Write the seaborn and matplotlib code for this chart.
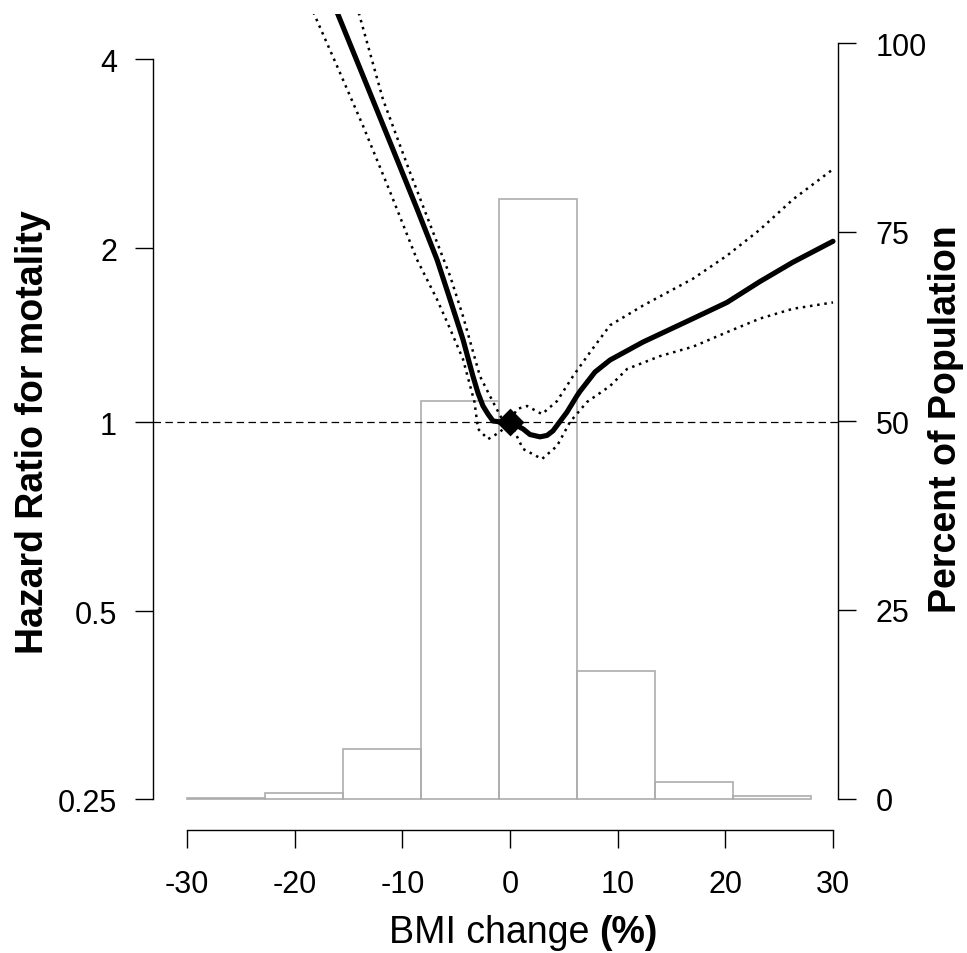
import numpy as np
import matplotlib
matplotlib.use("Agg")
import matplotlib.pyplot as plt
from matplotlib.ticker import FixedLocator, FixedFormatter, NullLocator
import seaborn as sns

# ---------------- data ----------------
# histogram of BMI change (percent of population per bin)
bin_edges = [-30.0, -22.75, -15.5, -8.25, -1.0, 6.25, 13.5, 20.75, 28.0]
pct_population = [0.15, 0.75, 6.6, 52.6, 79.4, 16.9, 2.2, 0.4]

# hazard ratio curve (solid)
hr_x = [-17.1, -16.0, -13.65, -11.15, -8.64, -6.78, -5.57, -4.37, -3.44, -2.97,
        -2.51, -2.04, -1.58, -1.21, -0.93, 0.0, 1.21, 1.86, 2.79, 3.44,
        3.99, 5.29, 6.22, 6.50, 7.89, 9.29, 12.35, 17.0, 20.15, 23.22,
        26.28, 30.0]
hr_y = [5.27, 4.72, 3.76, 2.95, 2.31, 1.91, 1.63, 1.39, 1.20, 1.122,
        1.066, 1.032, 1.004, 1.002, 1.0, 1.0, 0.975, 0.955, 0.947, 0.952,
        0.968, 1.04, 1.11, 1.13, 1.22, 1.28, 1.375, 1.51, 1.61, 1.75,
        1.89, 2.05]

# upper confidence limit (dotted)
upper_x = [-14.81, -14.02, -11.80, -9.29, -7.15, -5.57, -4.37, -2.79, -1.58, -0.74,
           0.0, 0.65, 1.58, 2.97, 4.37, 5.85, 7.43, 9.29, 12.35, 17.0,
           20.15, 23.22, 26.28, 30.0]
upper_y = [5.27, 4.72, 3.45, 2.64, 2.12, 1.79, 1.525, 1.20, 1.083, 1.012,
           1.0, 1.053, 1.066, 1.032, 1.087, 1.20, 1.32, 1.47, 1.59, 1.77,
           1.94, 2.14, 2.39, 2.67]

# lower confidence limit (dotted)
lower_x = [-19.44, -18.2, -16.07, -13.65, -11.15, -8.64, -6.78, -5.57, -4.37, -3.3,
           -2.97, -2.04, -0.93, 0.0, 1.21, 2.97, 4.37, 5.57, 7.15, 9.29,
           10.87, 13.93, 17.0, 20.15, 23.22, 26.28, 30.0]
lower_y = [5.27, 4.72, 3.90, 3.13, 2.46, 1.91, 1.63, 1.45, 1.285, 1.083,
           0.975, 0.939, 0.964, 1.0, 0.906, 0.873, 0.916, 1.0, 1.083, 1.154,
           1.235, 1.30, 1.35, 1.43, 1.51, 1.57, 1.61]

# reference point
ref_x = [0.0]
ref_y = [1.0]

x_ticks = [-30, -20, -10, 0, 10, 20, 30]
x_ticklabels = ["-30", "-20", "-10", "0", "10", "20", "30"]
hr_ticks = [0.25, 0.5, 1, 2, 4]
hr_ticklabels = ["0.25", "0.5", "1", "2", "4"]
pct_ticks = [0, 25, 50, 75, 100]
pct_ticklabels = ["0", "25", "50", "75", "100"]

# ---------------- style ----------------
sns.set_theme(style="ticks")
plt.rcParams["font.family"] = ["Liberation Sans", "DejaVu Sans"]
plt.rcParams["axes.unicode_minus"] = False
plt.rcParams["text.color"] = "black"
plt.rcParams["axes.labelcolor"] = "black"
plt.rcParams["xtick.color"] = "black"
plt.rcParams["ytick.color"] = "black"

W, H = 967, 954
fig = plt.figure(figsize=(W / 100, H / 100), dpi=100)
fig.patch.set_facecolor("white")

# plot region in pixels
L_PX, R_PX, T_PX, B_PX = 153, 838, 15, 831
ax_pct = fig.add_axes([L_PX / W, (H - B_PX) / H, (R_PX - L_PX) / W, (B_PX - T_PX) / H])
ax_pct.set_facecolor("none")
ax_hr = ax_pct.twinx()

# hazard-ratio axis: log2-like scale with the tick spacing used in the reference
KNOT_L = np.array([-2.0, -1.0, 0.0, 1.0, 2.0])
KNOT_H = np.array([31.0, 219.0, 408.0, 582.0, 771.0])


def _pw(x, xs, ys):
    x = np.asarray(x, dtype=float)
    y = np.interp(x, xs, ys)
    lo_slope = (ys[1] - ys[0]) / (xs[1] - xs[0])
    hi_slope = (ys[-1] - ys[-2]) / (xs[-1] - xs[-2])
    y = np.where(x < xs[0], ys[0] + (x - xs[0]) * lo_slope, y)
    y = np.where(x > xs[-1], ys[-1] + (x - xs[-1]) * hi_slope, y)
    return y


def hr_forward(v):
    v = np.asarray(v, dtype=float)
    with np.errstate(divide="ignore", invalid="ignore"):
        lv = np.log2(np.where(v > 0, v, np.nan))
    return _pw(lv, KNOT_L, KNOT_H)


def hr_inverse(h):
    return 2.0 ** _pw(h, KNOT_H, KNOT_L)


ax_hr.set_yscale("function", functions=(hr_forward, hr_inverse))

# ---------------- histogram ----------------
bin_centers = [(a + b) / 2 for a, b in zip(bin_edges[:-1], bin_edges[1:])]
sns.histplot(x=bin_centers, weights=pct_population, bins=bin_edges, ax=ax_pct,
             stat="count", fill=False, color="#adadad", linewidth=1.2)

# ---------------- curves ----------------
ax_hr.axhline(1, color="black", lw=0.9, ls=(0, (6, 3.5)), zorder=1)
dot = (0, (1.0, 1.9))
sns.lineplot(x=upper_x, y=upper_y, ax=ax_hr, color="black", linewidth=1.8,
             linestyle=dot, estimator=None, sort=False, zorder=2)
sns.lineplot(x=lower_x, y=lower_y, ax=ax_hr, color="black", linewidth=1.8,
             linestyle=dot, estimator=None, sort=False, zorder=2)
sns.lineplot(x=hr_x, y=hr_y, ax=ax_hr, color="black", linewidth=3.7,
             estimator=None, sort=False, zorder=3)
sns.scatterplot(x=ref_x, y=ref_y, ax=ax_hr, marker="D", s=200, color="black",
                linewidth=0, zorder=4)

# ---------------- axes ----------------
px_per_unit = (833 - 187) / 60.0
ax_pct.set_xlim(-30 - (187 - L_PX) / px_per_unit, 30 + (R_PX - 833) / px_per_unit)
pct_per_px = 100.0 / (800 - 44)
ax_pct.set_ylim(-(B_PX - 800) * pct_per_px, 100 + (44 - T_PX) * pct_per_px)
ax_hr.set_ylim(hr_inverse(0.0), hr_inverse(float(B_PX - T_PX)))

for ax in (ax_pct, ax_hr):
    for s in ax.spines.values():
        s.set_visible(False)
        s.set_linewidth(1.0)
        s.set_color("black")
    ax.grid(False)

ax_pct.spines["bottom"].set_visible(True)
ax_pct.spines["bottom"].set_bounds(-30, 30)
ax_pct.spines["right"].set_visible(True)
ax_pct.spines["right"].set_bounds(0, 100)
ax_hr.spines["left"].set_visible(True)
ax_hr.spines["left"].set_bounds(0.25, 4)

ax_pct.xaxis.set_major_locator(FixedLocator(x_ticks))
ax_pct.xaxis.set_major_formatter(FixedFormatter(x_ticklabels))
ax_pct.yaxis.tick_right()
ax_pct.yaxis.set_major_locator(FixedLocator(pct_ticks))
ax_pct.yaxis.set_major_formatter(FixedFormatter(pct_ticklabels))

ax_hr.yaxis.tick_left()
ax_hr.yaxis.set_major_locator(FixedLocator(hr_ticks))
ax_hr.yaxis.set_major_formatter(FixedFormatter(hr_ticklabels))
ax_hr.yaxis.set_minor_locator(NullLocator())
ax_hr.tick_params(axis="x", which="both", bottom=False, top=False, labelbottom=False)

tick_kw = dict(length=13, width=1.0, color="black", labelsize=22, labelcolor="black")
ax_pct.tick_params(axis="x", pad=15, **tick_kw)
ax_pct.tick_params(axis="y", right=True, left=False, labelright=True, labelleft=False,
                   pad=14, **tick_kw)
ax_hr.tick_params(axis="y", left=True, right=False, labelleft=True, labelright=False,
                  pad=13, **tick_kw)

ax_pct.set_xlabel("")
ax_pct.set_ylabel("")
ax_hr.set_xlabel("")
ax_hr.set_ylabel("")

# ---------------- labels ----------------
fig.text(33 / W, 1 - 432 / H, "Hazard Ratio for motality", rotation=90,
         ha="center", va="center", fontsize=27, fontweight="bold", color="black")
fig.text(946 / W, 1 - 419 / H, "Percent of Population", rotation=90,
         ha="center", va="center", fontsize=27, fontweight="bold", color="black")
fig.text(589 / W, 1 - 943 / H, "BMI change", ha="right", va="baseline", fontsize=27,
         color="black")
fig.text(599 / W, 1 - 943 / H, "(%)", ha="left", va="baseline", fontsize=27,
         fontweight="bold", color="black")

fig.savefig("out.png", dpi=100, facecolor="white")
